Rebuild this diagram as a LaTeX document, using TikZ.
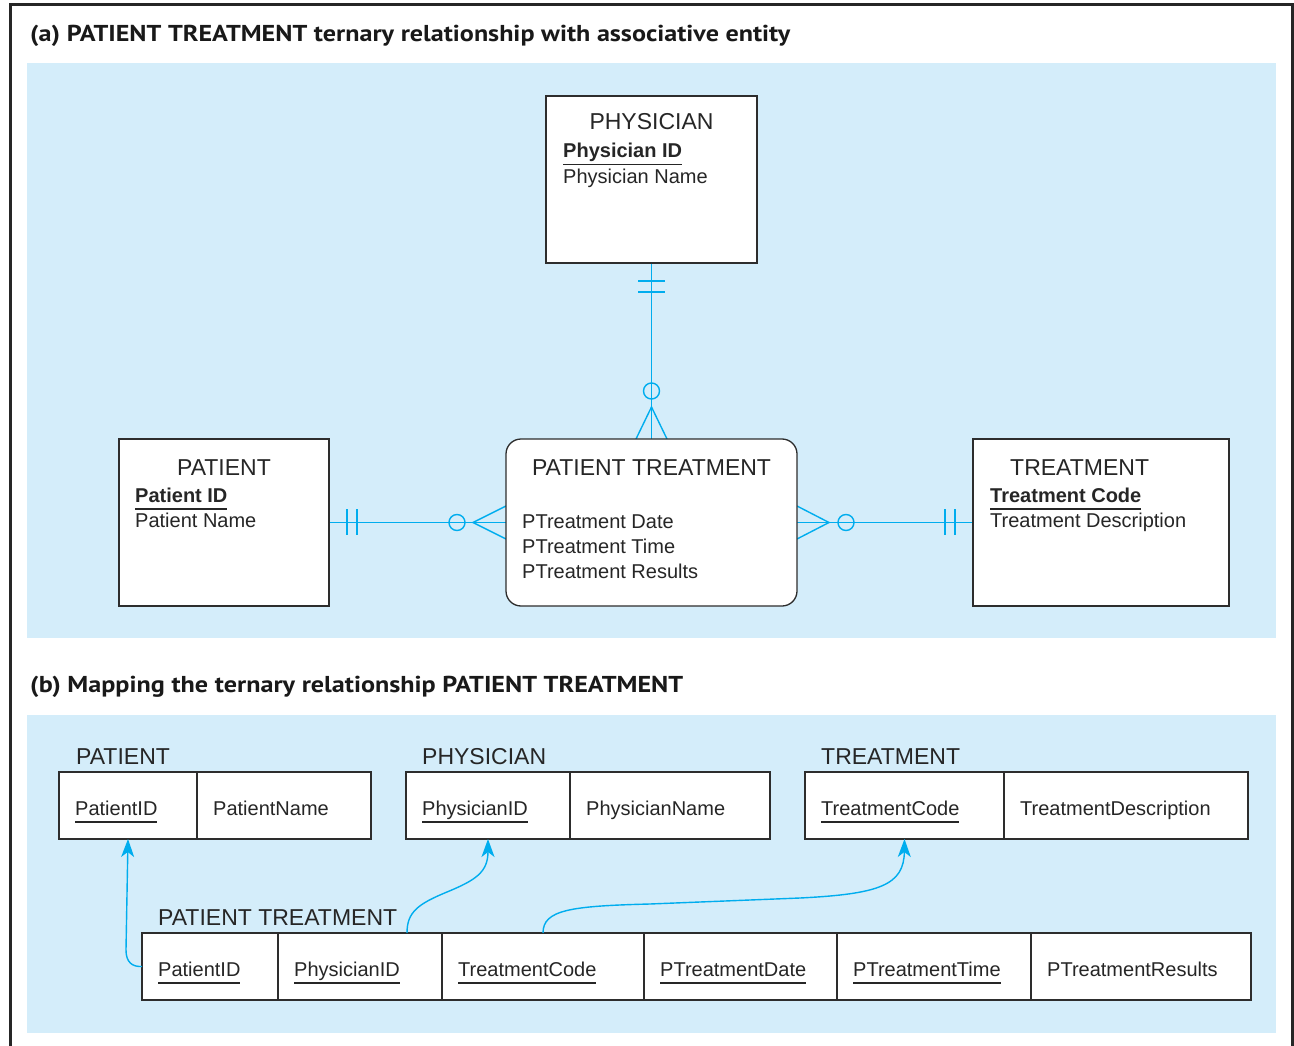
\documentclass[tikz,border=0pt]{standalone}
\usepackage{fontspec}
\setmainfont{Liberation Sans}
\newfontfamily\headfont{PT Sans}
\usepackage{graphicx}
\usetikzlibrary{arrows.meta, positioning}

\definecolor{panelblue}{RGB}{212,237,250}
\definecolor{relcyan}{RGB}{0,173,238}
\definecolor{edgegray}{RGB}{45,45,45}

% underlined key attribute
\newcommand{\ukey}[1]{\setbox0\hbox{#1}\rlap{\rule[-7.5pt]{\wd0}{1.3pt}}\box0}
\newcommand{\headline}[2]{\resizebox{#1}{\height}{\headfont\bfseries\fontsize{23}{27}\selectfont #2}}

\begin{document}
\begin{tikzpicture}[x=1pt, y=-1pt,
  panel/.style={fill=panelblue, draw=none},
  entbox/.style={draw=edgegray, line width=1.3pt, fill=white, anchor=north west,
                 inner sep=0pt, outer sep=0pt, minimum height=167pt},
  ename/.style={font=\fontsize{23}{27}\selectfont, text=black!85, inner sep=0pt, anchor=base},
  eattr/.style={font=\fontsize{20}{24}\selectfont, text=black!85, inner sep=0pt, anchor=base west},
  cell/.style={draw=edgegray, line width=1.6pt, fill=white, minimum height=67pt,
               anchor=north west, inner sep=0pt, outer sep=0pt},
  tlabel/.style={font=\fontsize{23}{27}\selectfont, text=black!85, inner sep=0pt, anchor=base west},
  heading/.style={inner sep=0pt, anchor=base west, text=black!90},
  rel/.style={draw=relcyan, line width=1.4pt},
  fk/.style={draw=relcyan, line width=1.4pt, -{Stealth[length=18pt, width=13pt, inset=5pt]}}
]
\useasboundingbox (0,0) rectangle (1294,1046);

% frame and panels
\draw[line width=3pt, draw=black!85] (10,1050) -- (10,5) -- (1292,5) -- (1292,1050);
\fill[panel] (27,63) rectangle (1276,638);
\fill[panel] (27,715) rectangle (1276,1033);

\node[heading] (headA) at (30,42) {\headline{760pt}{(a) PATIENT TREATMENT ternary relationship with associative entity}};
\node[heading] (headB) at (30,692) {\headline{653pt}{(b) Mapping the ternary relationship PATIENT TREATMENT}};

% (a) E-R diagram
\coordinate (physB) at (651.5,263);
\coordinate (ptrT) at (651.5,439);
\draw[rel] (physB) -- (ptrT);
\draw[rel] (319,522.5) -- (516,522.5);
\draw[rel] (787,522.5) -- (983,522.5);

\draw[rel] (638,281) -- (665,281) (638,292) -- (665,292);
\draw[rel] (651.5,391) circle[radius=8];
\draw[rel] (636,439) -- (651.5,407) -- (667,439);

\draw[rel] (347,509) -- (347,535) (357,509) -- (357,535);
\draw[rel] (457,522.5) circle[radius=8];
\draw[rel] (506,506) -- (473,522.5) -- (506,539);

\draw[rel] (945,509) -- (945,535) (955,509) -- (955,535);
\draw[rel] (846,522.5) circle[radius=8];
\draw[rel] (797,506) -- (829,522.5) -- (797,539);

\node[entbox, minimum width=211pt] (phys) at (546,96) {};
\node[entbox, minimum width=210pt] (pat) at (119,439) {};
\node[entbox, rounded corners=15pt, minimum width=291pt] (ptr) at (506,439) {};
\node[entbox, minimum width=256pt] (treat) at (973,439) {};

\node[ename] (physName) at (651.5,130) {PHYSICIAN};
\node[eattr] (physId) at (563,158) {\ukey{\bfseries Physician ID}};
\node[eattr] (physNm) at (563,184) {Physician Name};

\node[ename] (patName) at (224,475) {PATIENT};
\node[eattr] (patId) at (135,502) {\ukey{\bfseries Patient ID}};
\node[eattr] (patNm) at (135,527) {Patient Name};

\node[ename] (ptrName) at (651.5,475) {PATIENT TREATMENT};
\node[eattr] (ptrDate) at (522,528) {PTreatment Date};
\node[eattr] (ptrTime) at (522,553) {PTreatment Time};
\node[eattr] (ptrRes) at (522,578) {PTreatment Results};

\node[ename, anchor=base west] (treatName) at (1010,475) {TREATMENT};
\node[eattr] (treatCd) at (990,502) {\ukey{\bfseries Treatment Code}};
\node[eattr] (treatDs) at (990,527) {Treatment Description};

% (b) relations
\node[cell, minimum width=138pt] (pa1) at (59,772) {};
\node[cell, minimum width=174pt, right=0pt of pa1] (pa2) {};
\node[cell, minimum width=164pt] (ph1) at (406,772) {};
\node[cell, minimum width=200pt, right=0pt of ph1] (ph2) {};
\node[cell, minimum width=199pt] (tr1) at (805,772) {};
\node[cell, minimum width=244pt, right=0pt of tr1] (tr2) {};

\node[cell, minimum width=136pt] (pt1) at (142,933) {};
\node[cell, minimum width=164pt, right=0pt of pt1] (pt2) {};
\node[cell, minimum width=202pt, right=0pt of pt2] (pt3) {};
\node[cell, minimum width=193pt, right=0pt of pt3] (pt4) {};
\node[cell, minimum width=194pt, right=0pt of pt4] (pt5) {};
\node[cell, minimum width=220pt, right=0pt of pt5] (pt6) {};

\node[tlabel] (paLbl) at ([xshift=17pt, yshift=8pt]pa1.north west) {PATIENT};
\node[tlabel] (phLbl) at ([xshift=16pt, yshift=8pt]ph1.north west) {PHYSICIAN};
\node[tlabel] (trLbl) at ([xshift=16pt, yshift=8pt]tr1.north west) {TREATMENT};
\node[tlabel] (ptLbl) at ([xshift=16pt, yshift=8pt]pt1.north west) {PATIENT TREATMENT};

\foreach \c/\t in {pa1/{\ukey{PatientID}}, pa2/PatientName, ph1/{\ukey{PhysicianID}},
    ph2/PhysicianName, tr1/{\ukey{TreatmentCode}}, tr2/TreatmentDescription,
    pt1/{\ukey{PatientID}}, pt2/{\ukey{PhysicianID}}, pt3/{\ukey{TreatmentCode}},
    pt4/{\ukey{PTreatmentDate}}, pt5/{\ukey{PTreatmentTime}}, pt6/PTreatmentResults}
  \node[eattr] (\c t) at ([xshift=16pt, yshift=-9.5pt]\c.west) {\t};

% foreign keys
\draw[fk] (pt1.west) .. controls (132,967) and (126,962) .. (126,950) -- (pa1.south);
\draw[fk] ([xshift=-35pt]pt2.north east) .. controls (407,912) and (418,904) .. (447,892)
  .. controls (476,880) and (488,872) .. (ph1.south);
\draw[fk] (pt3.north) .. controls (543,910) and (570,906) .. (650,904) -- (800,898)
  .. controls (880,894) and (904,885) .. (tr1.south);
\end{tikzpicture}
\end{document}
